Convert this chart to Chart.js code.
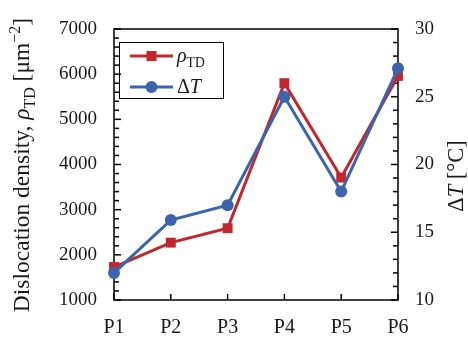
<!DOCTYPE html>
<html>
<head>
<meta charset="utf-8">
<script src="https://cdn.jsdelivr.net/npm/chart.js@4/dist/chart.umd.min.js"></script>
<style>
  html, body { margin: 0; padding: 0; background: #fff; }
  #wrap { width: 468px; height: 343px; }
</style>
</head>
<body>
<div id="wrap"><canvas id="c" width="468" height="343"></canvas></div>
<script>
const categories = ["P1", "P2", "P3", "P4", "P5", "P6"];
const rhoTD = [1730, 2270, 2590, 5800, 3710, 5960];
const deltaT = [12.0, 15.9, 17.0, 25.0, 18.0, 27.1];
const rhoTicks = [1000, 7000, 1000];   // min, max, step
const dtTicks = [10, 30, 5];

const RED = "#C1272D";
const BLUE = "#3B64AD";
const FONT = "'Liberation Serif', 'Times New Roman', serif";

// draw text made of parts: {t, it, sub, sup}
function richWidth(ctx, parts, size) {
    let w = 0;
    parts.forEach(p => {
        const s = (p.sub || p.sup) ? size * 0.68 : size;
        ctx.font = (p.it ? "italic " : "") + s + "px " + FONT;
        w += ctx.measureText(p.t).width;
    });
    return w;
}
function drawRich(ctx, parts, x, y, size) {
    let cx = x;
    parts.forEach(p => {
        const s = (p.sub || p.sup) ? size * 0.68 : size;
        ctx.font = (p.it ? "italic " : "") + s + "px " + FONT;
        let dy = 0;
        if (p.sub) dy = size * 0.25;
        if (p.sup) dy = -size * 0.38;
        ctx.fillText(p.t, cx, y + dy);
        cx += ctx.measureText(p.t).width;
    });
}

const leftTitle = [
    {t: "Dislocation density, "}, {t: "\u03C1", it: true}, {t: "TD", sub: true},
    {t: " [\u03BCm"}, {t: "\u22122", sup: true}, {t: "]"}
];
const rightTitle = [{t: "\u0394"}, {t: "T", it: true}, {t: " [\u00B0C]"}];

const axesPlugin = {
    id: "axesBox",
    beforeDatasetsDraw(chart) {
        const {ctx, chartArea: a, scales} = chart;
        const line = (x1, y1, x2, y2) => {
            ctx.beginPath(); ctx.moveTo(x1, y1); ctx.lineTo(x2, y2); ctx.stroke();
        };
        ctx.save();
        ctx.strokeStyle = "#000";
        ctx.lineWidth = 1.5;
        ctx.strokeRect(a.left, a.top, a.right - a.left, a.bottom - a.top);
        // left minor/major ticks every 200
        for (let v = scales.y.min; v <= scales.y.max; v += 200) {
            const p = scales.y.getPixelForValue(v);
            line(a.left, p, a.left + (v % 1000 === 0 ? 7 : 5), p);
        }
        // right ticks every 1
        for (let v = scales.y1.min; v <= scales.y1.max; v += 1) {
            const p = scales.y1.getPixelForValue(v);
            line(a.right, p, a.right - (v % 5 === 0 ? 7 : 5), p);
        }
        categories.forEach((c, i) => {
            const p = scales.x.getPixelForValue(i);
            line(p, a.bottom, p, a.bottom - 6);
        });
        ctx.restore();
    },
    afterDraw(chart) {
        const {ctx} = chart;
        ctx.save();
        ctx.fillStyle = "#1a1a1a";
        ctx.textBaseline = "alphabetic";
        ctx.textAlign = "left";
        // left title
        let w = richWidth(ctx, leftTitle, 23.5);
        ctx.save();
        ctx.translate(29, 165);
        ctx.rotate(-Math.PI / 2);
        drawRich(ctx, leftTitle, -w / 2, 0, 23.5);
        ctx.restore();
        // right title
        w = richWidth(ctx, rightTitle, 22.5);
        ctx.save();
        ctx.translate(463, 176);
        ctx.rotate(-Math.PI / 2);
        drawRich(ctx, rightTitle, -w / 2, 0, 22.5);
        ctx.restore();

        // legend
        ctx.strokeStyle = "#000";
        ctx.lineWidth = 1;
        ctx.strokeRect(119.5, 42.5, 104, 56);
        const entries = [
            {color: RED, y: 56, shape: "rect", parts: [{t: "\u03C1", it: true}, {t: "TD", sub: true}]},
            {color: BLUE, y: 87, shape: "circle", parts: [{t: "\u0394"}, {t: "T", it: true}]}
        ];
        entries.forEach(e => {
            ctx.strokeStyle = e.color;
            ctx.fillStyle = e.color;
            ctx.lineWidth = 3;
            ctx.beginPath(); ctx.moveTo(130, e.y); ctx.lineTo(173, e.y); ctx.stroke();
            ctx.beginPath();
            if (e.shape === "rect") ctx.rect(146.5, e.y - 5, 10, 10);
            else ctx.arc(151.5, e.y, 6, 0, Math.PI * 2);
            ctx.fill();
            ctx.fillStyle = "#1a1a1a";
            drawRich(ctx, e.parts, 177, e.y + 6, 20);
        });
        ctx.restore();
    }
};

const plain = v => String(v);

new Chart(document.getElementById("c"), {
    type: "line",
    data: {
        labels: categories,
        datasets: [
            {
                label: "\u0394T",
                data: deltaT,
                yAxisID: "y1",
                borderColor: BLUE,
                backgroundColor: BLUE,
                borderWidth: 3,
                pointStyle: "circle",
                pointRadius: 6,
                pointBorderWidth: 0,
                tension: 0,
                clip: false,
                order: 0
            },
            {
                label: "\u03C1TD",
                data: rhoTD,
                yAxisID: "y",
                borderColor: RED,
                backgroundColor: RED,
                borderWidth: 3,
                pointStyle: "rect",
                pointRadius: 7,
                pointBorderWidth: 0,
                tension: 0,
                clip: false,
                order: 1
            }
        ]
    },
    options: {
        responsive: false,
        animation: false,
        events: [],
        layout: {padding: {top: 29, left: 0, right: 0, bottom: 0}},
        plugins: {legend: {display: false}, tooltip: {enabled: false}},
        scales: {
            x: {
                type: "category",
                offset: false,
                grid: {display: false, drawTicks: false},
                border: {display: false},
                ticks: {color: "#1a1a1a", padding: 16, font: {family: FONT, size: 20}, maxRotation: 0},
                afterFit: s => { s.height = 43; }
            },
            y: {
                position: "left",
                min: rhoTicks[0], max: rhoTicks[1],
                grid: {display: false, drawTicks: false},
                border: {display: false},
                ticks: {stepSize: rhoTicks[2], color: "#1a1a1a", padding: 17, font: {family: FONT, size: 19}, callback: plain},
                afterFit: s => { s.width = 114; }
            },
            y1: {
                position: "right",
                min: dtTicks[0], max: dtTicks[1],
                grid: {display: false, drawTicks: false},
                border: {display: false},
                ticks: {stepSize: dtTicks[2], color: "#1a1a1a", padding: 17, font: {family: FONT, size: 19}, callback: plain},
                afterFit: s => { s.width = 70; }
            }
        }
    },
    plugins: [axesPlugin]
});
</script>
</body>
</html>
